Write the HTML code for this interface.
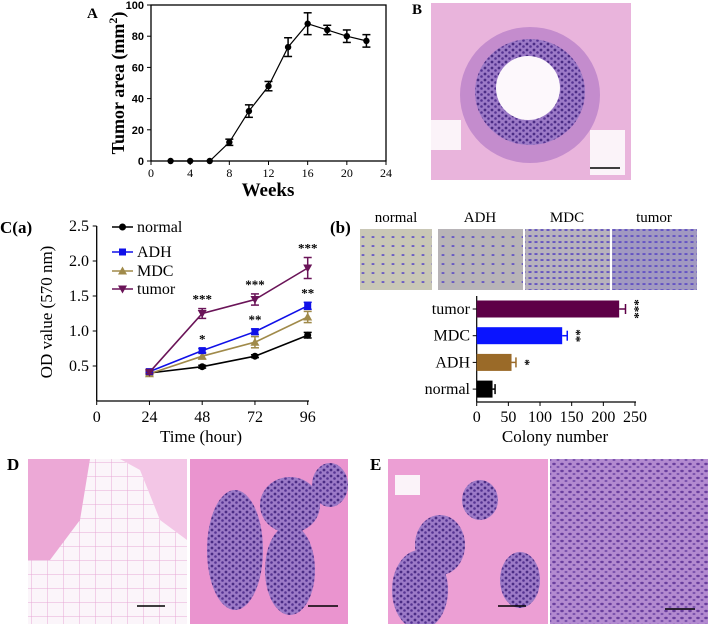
<!DOCTYPE html>
<html><head><meta charset="utf-8"><style>
html,body{margin:0;padding:0;background:#fff;overflow:hidden;}
svg{display:block;font-family:"Liberation Serif",serif;}
</style></head><body>
<svg id="fig" width="708" height="624" viewBox="0 0 708 624">
<defs>
<pattern id="nuc" width="14" height="12" patternUnits="userSpaceOnUse">
<rect width="14" height="12" fill="#e58bc8"/><ellipse cx="4" cy="4" rx="2" ry="1.4" fill="#5b3c94"/><ellipse cx="11" cy="9" rx="1.5" ry="1.2" fill="#6a4aa0"/></pattern>
<pattern id="dense" width="8" height="7" patternUnits="userSpaceOnUse">
<rect width="8" height="7" fill="#b38ad0"/><ellipse cx="2" cy="2" rx="1.8" ry="1.2" fill="#6a3f9e"/><ellipse cx="6" cy="5" rx="1.5" ry="1.1" fill="#7b52ad"/></pattern>
<pattern id="gland" width="7" height="6" patternUnits="userSpaceOnUse">
<rect width="7" height="6" fill="#9c7ac7"/><circle cx="2" cy="2" r="1.4" fill="#4a2c84"/><circle cx="5.5" cy="4.5" r="1.3" fill="#553392"/></pattern>
<pattern id="cells" width="10" height="9" patternUnits="userSpaceOnUse">
<rect width="10" height="9" fill="#c9c7b6"/><ellipse cx="3" cy="3" rx="1.6" ry="1" fill="#6b5cc4"/></pattern>
<pattern id="cells2" width="6" height="6" patternUnits="userSpaceOnUse">
<rect width="6" height="6" fill="#b7b2bd"/><ellipse cx="2" cy="2" rx="1.8" ry="0.9" fill="#5a47c0"/></pattern>
<pattern id="fat" width="16" height="14" patternUnits="userSpaceOnUse">
<rect width="16" height="14" fill="#fbf5fa"/><path d="M0 0H16V14" fill="none" stroke="#e7a9d6" stroke-width="1"/></pattern>
</defs>

<g id="panelA">
<text x="87" y="18" font-weight="bold" font-size="15">A</text>
</g>

<g>
<text x="412" y="14" font-weight="bold" font-size="15">B</text>
<rect x="431" y="3" width="200" height="177" fill="#e9b4dc"/>
<ellipse cx="530" cy="95" rx="70" ry="68" fill="#c48ccd"/>
<ellipse cx="530" cy="92" rx="55" ry="53" fill="url(#gland)"/>
<ellipse cx="528" cy="88" rx="32" ry="32" fill="#fdf8fc"/>
<rect x="431" y="120" width="30" height="30" fill="#fbf3f9"/>
<rect x="590" y="130" width="35" height="45" fill="#fbf3f9"/>
<line x1="590" y1="168" x2="620" y2="168" stroke="#000" stroke-width="1.5"/>
</g>

<g id="panelCa">
<text x="0" y="233" font-weight="bold" font-size="17">C(a)</text>
</g>

<g id="panelCb">
<text x="330" y="233" font-weight="bold" font-size="17">(b)</text>
<text x="396" y="222" font-size="15" text-anchor="middle">normal</text>
<text x="480" y="222" font-size="15" text-anchor="middle">ADH</text>
<text x="567" y="222" font-size="15" text-anchor="middle">MDC</text>
<text x="654" y="222" font-size="15" text-anchor="middle">tumor</text>
<rect x="360" y="229" width="72" height="61" fill="url(#cells)"/>
<rect x="438" y="229" width="85" height="61" fill="url(#cells)"/>
<rect x="438" y="229" width="85" height="61" fill="#5a47c0" opacity="0.15"/>
<rect x="525" y="229" width="85" height="61" fill="url(#cells2)"/>
<rect x="612" y="229" width="85" height="61" fill="url(#cells2)"/>
<rect x="612" y="229" width="85" height="61" fill="#6050d0" opacity="0.25"/>
</g>

<g>
<text x="7" y="470" font-weight="bold" font-size="17">D</text>
<rect x="28" y="459" width="159" height="165" fill="url(#fat)"/>
<path d="M28 459H90L80 520L50 560L28 560Z" fill="#eca8d6"/>
<path d="M120 459H187V540L160 520L140 470Z" fill="#f3c6e6"/>
<rect x="190" y="459" width="158" height="165" fill="#ea94cf"/>
<ellipse cx="235" cy="550" rx="28" ry="60" fill="url(#gland)"/>
<ellipse cx="290" cy="570" rx="25" ry="45" fill="url(#gland)"/>
<ellipse cx="290" cy="505" rx="30" ry="28" fill="url(#gland)"/>
<ellipse cx="330" cy="485" rx="18" ry="22" fill="url(#gland)"/>
<line x1="137" y1="606" x2="165" y2="606" stroke="#000" stroke-width="1.5"/>
<line x1="308" y1="606" x2="338" y2="606" stroke="#000" stroke-width="1.5"/>
</g>

<g>
<text x="370" y="470" font-weight="bold" font-size="17">E</text>
<rect x="388" y="459" width="160" height="165" fill="#ec9fd4"/>
<ellipse cx="420" cy="590" rx="28" ry="40" fill="url(#gland)"/>
<ellipse cx="440" cy="545" rx="25" ry="30" fill="url(#gland)"/>
<ellipse cx="520" cy="580" rx="20" ry="28" fill="url(#gland)"/>
<ellipse cx="480" cy="500" rx="18" ry="20" fill="url(#gland)"/>
<rect x="395" y="475" width="25" height="20" fill="#fbf3f9"/>
<rect x="550" y="459" width="158" height="165" fill="url(#dense)"/>
<line x1="498" y1="606" x2="526" y2="606" stroke="#000" stroke-width="1.5"/>
<line x1="665" y1="609" x2="695" y2="609" stroke="#000" stroke-width="1.5"/>
</g>
</svg>

<script>
// ---------- Panel A data ----------
const weeks = [2,4,6,8,10,12,14,16,18,20,22];
const tumorArea = [0,0,0,12,32,48,73,88,84,80,77];
const tumorAreaErr = [0,0,0,2,4,3,6,7,3,4,4];
const aXTicks = [0,4,8,12,16,20,24];
const aYTicks = [0,20,40,60,80,100];

// ---------- Panel C(a) data ----------
const hours = [24,48,72,96];
const odNormal = [0.40,0.49,0.64,0.94];
const odADH = [0.42,0.72,0.99,1.36];
const odMDC = [0.39,0.64,0.84,1.20];
const odTumor = [0.41,1.25,1.45,1.90];
const errNormal = [0.02,0.02,0.02,0.04];
const errADH = [0.02,0.03,0.04,0.05];
const errMDC = [0.02,0.04,0.08,0.08];
const errTumor = [0.02,0.07,0.08,0.15];
const cXTicks = [0,24,48,72,96];
const cYTicks = [0.5,1.0,1.5,2.0,2.5];
const sigADH = ["", "*", "**", "**"];
const sigTumor = ["", "***", "***", "***"];

// ---------- Panel C(b) data ----------
const colonyCats = ["tumor","MDC","ADH","normal"];
const colonyVals = [225,135,55,25];
const colonyErr = [10,8,7,4];
const colonySig = ["***","**","*",""];
const bXTicks = [0,50,100,150,200,250];

const NS = "http://www.w3.org/2000/svg";
function mk(parent, tag, attrs, text){
  const e = document.createElementNS(NS, tag);
  for (const k in attrs) e.setAttribute(k, attrs[k]);
  if (text !== undefined) e.textContent = text;
  parent.appendChild(e);
  return e;
}

// ===== Panel A =====
(function(){
  const g = document.getElementById('panelA');
  const x = v => 151 + (v/24)*(386-151);
  const y = v => 161 - (v/100)*(161-5);
  const frame = mk(g,'rect',{x:151,y:5,width:235,height:156,fill:'none',stroke:'#000','stroke-width':1.3});
  
  
  aXTicks.forEach(t=>{
    mk(g,'line',{x1:x(t),x2:x(t),y1:161,y2:165,stroke:'#000'});
    const l = mk(g,'text',{x:x(t),y:177,'font-size':12,'text-anchor':'middle'},t);
    
    
  });
  aYTicks.forEach(t=>{
    mk(g,'line',{x1:147,x2:151,y1:y(t),y2:y(t),stroke:'#000'});
    const l = mk(g,'text',{x:144,y:y(t)+4,'font-size':11,'font-weight':'bold','text-anchor':'end','font-family':'Liberation Sans, sans-serif'},t);
    
    
  });
  const xt = mk(g,'text',{x:268,y:196,'font-size':19,'font-weight':'bold','text-anchor':'middle'},'Weeks');
  
  
  const yt = mk(g,'text',{x:0,y:0,'font-size':18,'font-weight':'bold','text-anchor':'middle',transform:'translate(124,83) rotate(-90)'});
  
  
  yt.innerHTML = 'Tumor area (mm<tspan dy="-7" font-size="12">2</tspan><tspan dy="7">)</tspan>';
  const pts = weeks.map((w,i)=>x(w)+','+y(tumorArea[i])).join(' ');
  const ln = mk(g,'polyline',{points:pts,fill:'none',stroke:'#000','stroke-width':1.2});
  
  
  weeks.forEach((w,i)=>{
    const cx=x(w), cy=y(tumorArea[i]), e=tumorAreaErr[i];
    if(e>0){
      mk(g,'line',{x1:cx,x2:cx,y1:y(tumorArea[i]+e),y2:y(tumorArea[i]-e),stroke:'#000','stroke-width':1.5});
      mk(g,'line',{x1:cx-4,x2:cx+4,y1:y(tumorArea[i]+e),y2:y(tumorArea[i]+e),stroke:'#000','stroke-width':1.5});
      mk(g,'line',{x1:cx-4,x2:cx+4,y1:y(tumorArea[i]-e),y2:y(tumorArea[i]-e),stroke:'#000','stroke-width':1.5});
    }
    const p = mk(g,'circle',{cx:cx,cy:cy,r:3.2,fill:'#000'});
    
    
  });
})();

// ===== Panel C(a) =====
(function(){
  const g = document.getElementById('panelCa');
  const x = v => 96.7 + (v/96)*(307.7-96.7);
  const y = v => 366 - (v-0.5)*70;
  mk(g,'line',{x1:96.7,x2:96.7,y1:226,y2:401,stroke:'#000','stroke-width':1.3});
  mk(g,'line',{x1:96.7,x2:309,y1:401,y2:401,stroke:'#000','stroke-width':1.3});
  cXTicks.forEach(t=>{
    mk(g,'line',{x1:x(t),x2:x(t),y1:401,y2:405,stroke:'#000'});
    const l = mk(g,'text',{x:x(t),y:422,'font-size':16,'text-anchor':'middle'},t);
    
    
  });
  cYTicks.forEach(t=>{
    mk(g,'line',{x1:92.7,x2:96.7,y1:y(t),y2:y(t),stroke:'#000'});
    const l = mk(g,'text',{x:89,y:y(t)+5,'font-size':16,'text-anchor':'end'},t.toFixed(1));
    
    
  });
  const xt = mk(g,'text',{x:201,y:442,'font-size':17,'text-anchor':'middle'},'Time (hour)');
  
  
  const yt = mk(g,'text',{x:0,y:0,'font-size':17,'text-anchor':'middle',transform:'translate(52,312) rotate(-90)'},'OD value (570 nm)');
  
  
  const series = [
    {name:'normal',vals:odNormal,err:errNormal,col:'#000',m:'circle'},
    {name:'MDC',vals:odMDC,err:errMDC,col:'#a08a4a',m:'tri'},
    {name:'ADH',vals:odADH,err:errADH,col:'#1010e8',m:'square'},
    {name:'tumor',vals:odTumor,err:errTumor,col:'#6a1458',m:'tridown'}
  ];
  function marker(par,m,cx,cy,col){
    let e;
    if(m==='circle') e=mk(par,'circle',{cx:cx,cy:cy,r:3.5,fill:col});
    else if(m==='square') e=mk(par,'rect',{x:cx-3.5,y:cy-3.5,width:7,height:7,fill:col});
    else if(m==='tri') e=mk(par,'polygon',{points:`${cx},${cy-4.5} ${cx-4.5},${cy+3.5} ${cx+4.5},${cy+3.5}`,fill:col});
    else e=mk(par,'polygon',{points:`${cx},${cy+4.5} ${cx-4.5},${cy-3.5} ${cx+4.5},${cy-3.5}`,fill:col});
    return e;
  }
  series.forEach(s=>{
    const pts = hours.map((h,i)=>x(h)+','+y(s.vals[i])).join(' ');
    const ln = mk(g,'polyline',{points:pts,fill:'none',stroke:s.col,'stroke-width':1.6});
    
    
    hours.forEach((h,i)=>{
      const cx=x(h), v=s.vals[i], e=s.err[i];
      mk(g,'line',{x1:cx,x2:cx,y1:y(v+e),y2:y(v-e),stroke:s.col,'stroke-width':1.5});
      mk(g,'line',{x1:cx-4,x2:cx+4,y1:y(v+e),y2:y(v+e),stroke:s.col,'stroke-width':1.5});
      mk(g,'line',{x1:cx-4,x2:cx+4,y1:y(v-e),y2:y(v-e),stroke:s.col,'stroke-width':1.5});
      const p = marker(g,s.m,cx,y(v),s.col);
      
      
    });
  });
  hours.forEach((h,i)=>{
    if(sigTumor[i]){
      const t = mk(g,'text',{x:x(h),y:y(odTumor[i]+errTumor[i])-5,'font-size':13,'font-weight':'bold','text-anchor':'middle'},sigTumor[i]);
      
      
    }
    if(sigADH[i]){
      const t = mk(g,'text',{x:x(h),y:y(odADH[i]+errADH[i])-5,'font-size':13,'font-weight':'bold','text-anchor':'middle'},sigADH[i]);
      
      
    }
  });
  const leg = [['normal','#000','circle',227],['ADH','#1010e8','square',252],['MDC','#a08a4a','tri',271],['tumor','#6a1458','tridown',289]];
  leg.forEach(l=>{
    const lg = mk(g,'g',{});
    
    
    mk(lg,'line',{x1:112,x2:133,y1:l[3],y2:l[3],stroke:l[1],'stroke-width':1.6});
    marker(lg,l[2],122.5,l[3],l[1]);
    mk(lg,'text',{x:137,y:l[3]+5,'font-size':16},l[0]);
  });
})();

// ===== Panel C(b) =====
(function(){
  const g = document.getElementById('panelCb');
  const x = v => 476.7 + (v/250)*(635-476.7);
  const cy0 = 309, step = 26.7, bh = 17;
  const cols = ['#5e0047','#0a14ff','#9a6a28','#000'];
  mk(g,'line',{x1:476.7,x2:476.7,y1:296,y2:402,stroke:'#000','stroke-width':1.2});
  mk(g,'line',{x1:476.7,x2:636,y1:402,y2:402,stroke:'#000','stroke-width':1.2});
  bXTicks.forEach(t=>{
    mk(g,'line',{x1:x(t),x2:x(t),y1:402,y2:406,stroke:'#000'});
    const l = mk(g,'text',{x:x(t),y:422,'font-size':16,'text-anchor':'middle'},t);
    
    
  });
  const xt = mk(g,'text',{x:555,y:442,'font-size':17,'text-anchor':'middle'},'Colony number');
  
  
  colonyCats.forEach((c,i)=>{
    const cy = cy0 + i*step;
    mk(g,'line',{x1:472.7,x2:476.7,y1:cy,y2:cy,stroke:'#000'});
    const l = mk(g,'text',{x:470,y:cy+5,'font-size':16,'text-anchor':'end'},c);
    
    
    const b = mk(g,'rect',{x:476.7,y:cy-bh/2,width:x(colonyVals[i])-476.7,height:bh,fill:cols[i]});
    
    
    const ex = x(colonyVals[i]+colonyErr[i]);
    mk(g,'line',{x1:x(colonyVals[i]),x2:ex,y1:cy,y2:cy,stroke:cols[i],'stroke-width':1.5});
    mk(g,'line',{x1:ex,x2:ex,y1:cy-5,y2:cy+5,stroke:cols[i],'stroke-width':1.5});
    if(colonySig[i]){
      const t = mk(g,'text',{x:0,y:0,'font-size':13,'font-weight':'bold','text-anchor':'middle',transform:`translate(${ex+5},${cy}) rotate(90)`},colonySig[i]);
      
      
    }
  });
})();
</script>
</body></html>
